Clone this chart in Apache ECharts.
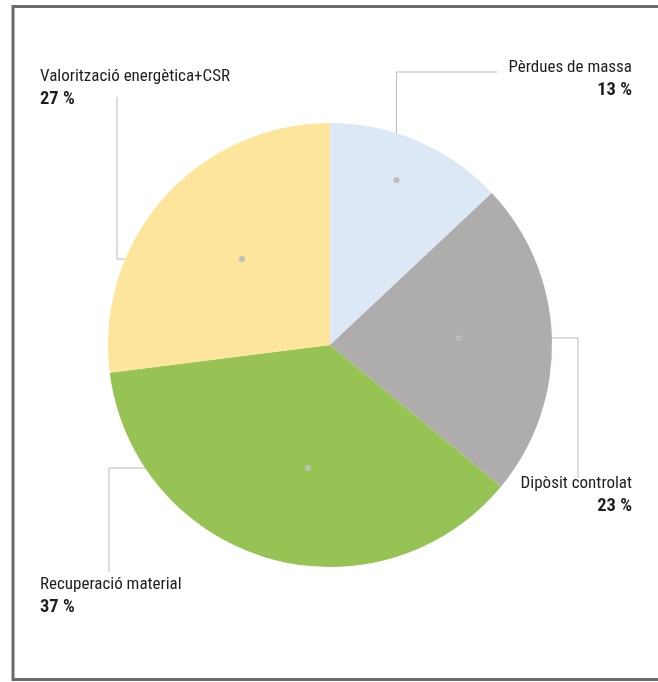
<!DOCTYPE html>
<html>
<head>
<meta charset="utf-8">
<script src="https://cdn.jsdelivr.net/npm/echarts@6/dist/echarts.min.js"></script>
<style>
html,body{margin:0;padding:0;background:#fff;}
#c{width:658px;height:682px;}
</style>
</head>
<body>
<div id="c"></div>
<script>
// ---- data ----
const categories = ['Pèrdues de massa', 'Dipòsit controlat', 'Recuperació material', 'Valorització energètica+CSR'];
const values = [13, 23, 37, 27];
const colors = ['#dde8f6', '#afadab', '#97c355', '#fee59c'];

// ---- layout (positions only) ----
const CX = 330, CY = 345, R = 222;
// anchor dot: [fraction of slice angle, fraction of radius]
const anchors = [[0.47, 0.80], [0.484, 0.58], [0.454, 0.563], [0.53, 0.554]];
// leader route: first leg direction and the two target coordinates
const routes = [
  { first: 'v', a: 72, b: 497 },
  { first: 'h', a: 578, b: 478 },
  { first: 'h', a: 109, b: 572 },
  { first: 'h', a: 117, b: 97 }
];
const labelPos = [
  { x: 632, y: 57, align: 'right' },
  { x: 632, y: 473, align: 'right' },
  { x: 40, y: 574, align: 'left' },
  { x: 40, y: 66, align: 'left' }
];

const total = values.reduce((s, v) => s + v, 0);
function anchorPoint(i) {
  let start = 0;
  for (let k = 0; k < i; k++) start += values[k] / total * 360;
  const span = values[i] / total * 360;
  const ang = (start + span * anchors[i][0]) * Math.PI / 180;
  const r = R * anchors[i][1];
  return [CX + r * Math.sin(ang), CY - r * Math.cos(ang)];
}
function routePoints(i) {
  const p = anchorPoint(i);
  const rt = routes[i];
  if (rt.first === 'v') {
    return [p, [p[0], rt.a], [rt.b, rt.a]];
  }
  return [p, [rt.a, p[1]], [rt.a, rt.b]];
}

const fontFamily = "'Liberation Sans Narrow', 'Roboto Condensed', 'DejaVu Sans Condensed', Roboto, sans-serif";

const chart = echarts.init(document.getElementById('c'), null, { renderer: 'canvas' });
const option = {
  backgroundColor: '#ffffff',
  animation: false,
  series: [{
    type: 'pie',
    center: [CX, CY],
    radius: [0, R],
    startAngle: 90,
    clockwise: true,
    silent: true,
    data: categories.map((n, i) => ({ name: n, value: values[i], itemStyle: { color: colors[i] } })),
    label: {
      show: true,
      position: 'outside',
      overflow: 'none',
      formatter: '{n|{b}}\n{v|{c} %}',
      rich: {
        n: { fontSize: 17, color: '#1e1e1e', fontFamily: fontFamily, lineHeight: 22 },
        v: { fontSize: 18.5, color: '#1e1e1e', fontWeight: 'bold', fontFamily: fontFamily, lineHeight: 23 }
      }
    },
    labelLine: {
      show: true,
      lineStyle: { color: '#bbbbbb', width: 1 }
    },
    labelLayout: function (params) {
      const i = params.dataIndex;
      const lp = labelPos[i];
      return {
        x: lp.x,
        y: lp.y,
        align: lp.align,
        verticalAlign: 'top',
        labelLinePoints: routePoints(i)
      };
    }
  }],
  graphic: [
    {
      type: 'rect',
      shape: { x: 13, y: 6.5, width: 700, height: 673 },
      style: { fill: 'none', stroke: '#6b6b6b', lineWidth: 3 },
      z: 100
    }
  ].concat(values.map((v, i) => {
    const p = anchorPoint(i);
    return {
      type: 'circle',
      shape: { cx: p[0], cy: p[1], r: 3 },
      style: { fill: '#bdbdbd' },
      z: 100
    };
  }))
};
chart.setOption(option);
</script>
</body>
</html>
